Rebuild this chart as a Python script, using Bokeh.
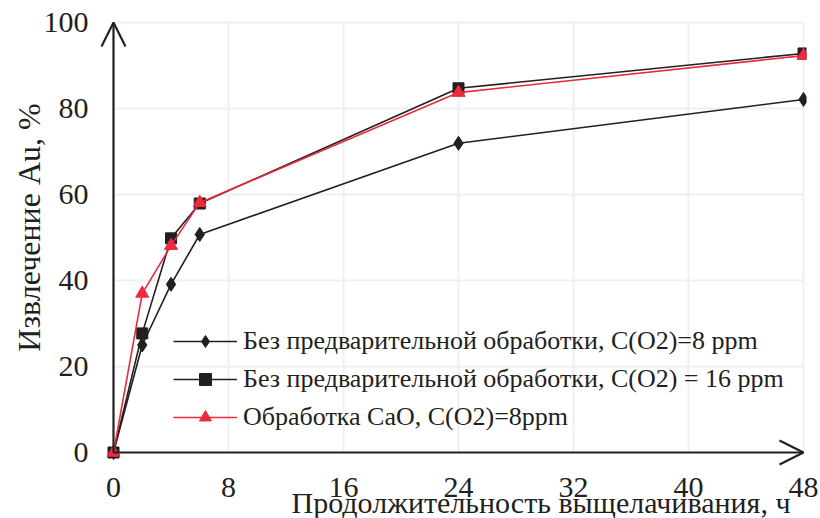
from math import pi
from bokeh.plotting import figure
from bokeh.models import (Arrow, OpenHead, Legend, LegendItem, FixedTicker,
                          Range1d, Label)
from bokeh.embed import file_html
from bokeh.resources import INLINE

# ---- data ----
hours = [0, 2, 4, 6, 24, 48]
no_pre_8ppm = [0, 25.0, 39.1, 50.7, 71.9, 82.1]
no_pre_16ppm = [0, 27.7, 49.8, 57.9, 84.7, 92.8]
cao_8ppm = [0, 37.0, 48.1, 58.1, 83.7, 92.3]

labels = ["Без предварительной обработки, C(O2)=8 ppm",
          "Без предварительной обработки, C(O2) = 16 ppm",
          "Обработка CaO, C(O2)=8ppm"]
x_ticks = [0, 8, 16, 24, 32, 40, 48]
y_ticks = [0, 20, 40, 60, 80, 100]
x_title = "Продолжительность выщелачивания, ч"
y_title = "Извлечение Au, %"

BLACK = "#231f20"
RED = "#ec2a3c"
GRID = "#eef0f2"
FONT = "Liberation Serif"

# ---- layout (pixels) ----
W, H = 820, 518
FL, FR, FT, FB = 0, 806, 20, H              # frame edges (frame reaches left/bottom edge)
X0PX, XMPX, Y0PX, YMPX = 113, 803, 452, 22  # where x=0, x=48, y=0, y=100 fall
xmin, xmax = x_ticks[0], x_ticks[-1]
ymin, ymax = y_ticks[0], y_ticks[-1]
kx = (XMPX - X0PX) / (xmax - xmin)
ky = (Y0PX - YMPX) / (ymax - ymin)
x_range = Range1d(xmin - (X0PX - FL) / kx, xmax + (FR - XMPX) / kx)
y_range = Range1d(ymin - (FB - Y0PX) / ky, ymax + (YMPX - FT) / ky)

p = figure(width=W, height=H, output_backend="svg", toolbar_location=None,
           x_range=x_range, y_range=y_range,
           min_border_left=FL, min_border_right=W - FR,
           min_border_top=FT, min_border_bottom=H - FB)
p.outline_line_color = None
p.background_fill_color = "white"
p.border_fill_color = "white"
p.xgrid.visible = False
p.ygrid.visible = False

for ax in (p.xaxis[0], p.yaxis[0]):
    ax.axis_line_color = None
    ax.major_tick_line_color = None
    ax.minor_tick_line_color = None
    ax.major_tick_out = 0
    ax.major_tick_in = 0
    ax.major_label_text_font = FONT
    ax.major_label_text_font_size = "30px"
    ax.major_label_text_color = BLACK

p.xaxis[0].ticker = FixedTicker(ticks=x_ticks)
p.yaxis[0].ticker = FixedTicker(ticks=y_ticks)
# tick labels sit inside the (enlarged) frame area
p.xaxis[0].major_label_standoff = 477 - FB
p.yaxis[0].major_label_standoff = FL - 88

# grid lines limited to the data area
vx = x_ticks[1:]
hy = y_ticks[1:]
p.segment(x0=vx, y0=[ymin] * len(vx), x1=vx, y1=[ymax] * len(vx),
          line_color=GRID, line_width=2)
p.segment(x0=[xmin] * len(hy), y0=hy, x1=[xmax] * len(hy), y1=hy,
          line_color=GRID, line_width=2)

# axis arrows
p.add_layout(Arrow(x_start=xmin, y_start=ymin, x_end=xmax, y_end=ymin,
                   line_color=BLACK, line_width=2.2,
                   end=OpenHead(size=24, line_color=BLACK, line_width=2.2)))
p.add_layout(Arrow(x_start=xmin, y_start=ymin, x_end=xmin, y_end=ymax,
                   line_color=BLACK, line_width=2.2,
                   end=OpenHead(size=24, line_color=BLACK, line_width=2.2)))

# series
l1 = p.line(hours, no_pre_8ppm, line_color=BLACK, line_width=1.6)
s1 = p.scatter(hours, no_pre_8ppm, marker="diamond", size=14,
               fill_color=BLACK, line_color=BLACK)
l2 = p.line(hours, no_pre_16ppm, line_color=BLACK, line_width=1.6)
s2 = p.scatter(hours, no_pre_16ppm, marker="square", size=11,
               fill_color=BLACK, line_color=BLACK)
l3 = p.line(hours, cao_8ppm, line_color=RED, line_width=1.6)
s3 = p.scatter(hours, cao_8ppm, marker="triangle", size=13,
               fill_color=RED, line_color=RED)

legend = Legend(items=[LegendItem(label=labels[0], renderers=[l1, s1]),
                       LegendItem(label=labels[1], renderers=[l2, s2]),
                       LegendItem(label=labels[2], renderers=[l3, s3])],
                location=(173 - FL, FB - 432), padding=0, margin=0, spacing=8,
                glyph_height=30, glyph_width=64, label_standoff=6,
                label_text_font=FONT, label_text_font_size="26px",
                label_text_color=BLACK,
                background_fill_alpha=0, border_line_alpha=0)
p.add_layout(legend)

# axis titles (screen units, measured from the frame's lower-left corner)
p.add_layout(Label(x=28 - FL, y=FB - 227, x_units="screen", y_units="screen",
                   text=y_title, angle=pi / 2, text_align="center",
                   text_baseline="middle", text_font=FONT,
                   text_font_size="32px", text_color=BLACK))
p.add_layout(Label(x=790 - FL, y=FB - 502, x_units="screen", y_units="screen",
                   text=x_title, text_align="right",
                   text_baseline="alphabetic", text_font=FONT,
                   text_font_size="30px", text_color=BLACK))

open("out.html", "w").write(file_html(p, INLINE))
